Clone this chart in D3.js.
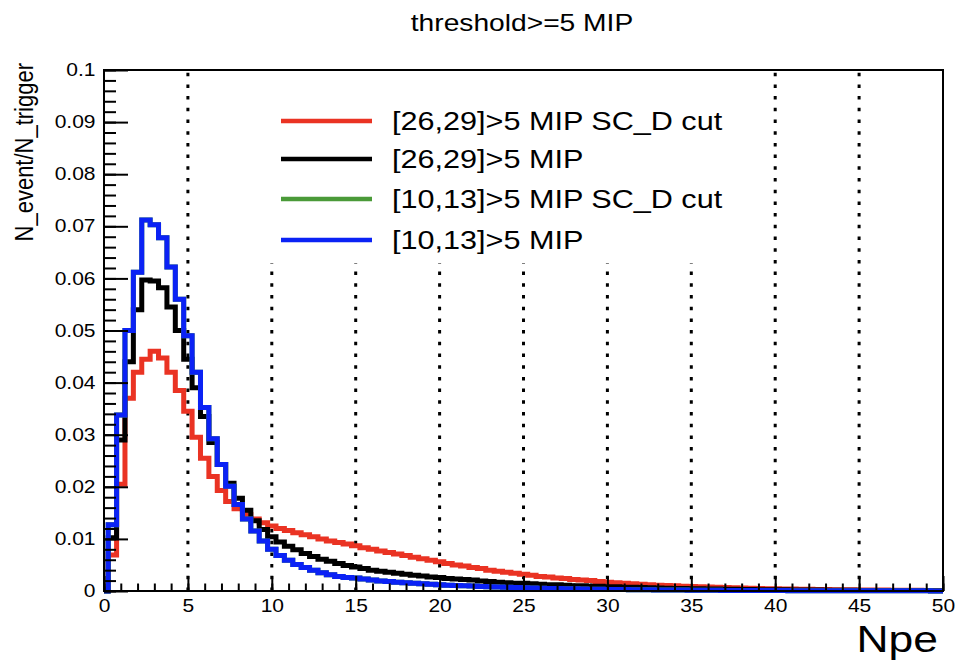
<!DOCTYPE html>
<html>
<head>
<meta charset="utf-8">
<script src="https://cdn.jsdelivr.net/npm/d3@7"></script>
<style>
  body { margin: 0; background: #fff; }
  svg text { font-family: "Liberation Sans", Arial, Helvetica, sans-serif; fill: #000; }
</style>
</head>
<body>
<div id="my_dataviz"></div>
<script>

// histogram contents: bins of 0.5 Npe centred on 0, 0.5, 1, ... 50
const binWidth = 0.5;

const red = [
  0.0004, 0.0069, 0.0205, 0.0370, 0.0420, 0.0445, 0.0460, 0.0447, 0.0420, 0.0385,
  0.0345, 0.0295, 0.0255, 0.0220, 0.0193, 0.0172, 0.0158, 0.0147, 0.0138, 0.0131,
  0.0125, 0.0120, 0.0116, 0.0112, 0.0108, 0.0104, 0.0100, 0.0096, 0.0093, 0.0090,
  0.0087, 0.0083, 0.0080, 0.0077, 0.0074, 0.0071, 0.0068, 0.0065, 0.0062, 0.0059,
  0.0056, 0.0053, 0.0050, 0.0048, 0.0045, 0.0043, 0.0040, 0.0038, 0.0036, 0.0034,
  0.0032, 0.0030, 0.0028, 0.0027, 0.0025, 0.0024, 0.0022, 0.0021, 0.0020, 0.0018,
  0.0017, 0.0016, 0.0015, 0.0014, 0.0013, 0.0012, 0.0011, 0.00105, 0.0010, 0.0009,
  0.00085, 0.0008, 0.00075, 0.0007, 0.00065, 0.0006, 0.00056, 0.00052, 0.00048, 0.00045,
  0.00042, 0.0004, 0.00037, 0.00035, 0.00032, 0.0003, 0.00028, 0.00026, 0.00024, 0.00022,
  0.0002, 0.00019, 0.00018, 0.00017, 0.00016, 0.00015, 0.00014, 0.00013, 0.00012, 0.00011,
  0.0001
];

const black = [
  0, 0.0102, 0.0290, 0.0440, 0.0540, 0.0597, 0.0595, 0.0582, 0.0545, 0.0500,
  0.0445, 0.0390, 0.0335, 0.0285, 0.0243, 0.0207, 0.0178, 0.0155, 0.0135, 0.0118,
  0.0104, 0.0094, 0.0086, 0.0079, 0.0072, 0.0066, 0.0061, 0.0057, 0.0053, 0.0049,
  0.0046, 0.0043, 0.0040, 0.0038, 0.0036, 0.0034, 0.0032, 0.0030, 0.0029, 0.0027,
  0.0026, 0.0024, 0.0023, 0.0022, 0.0021, 0.0019, 0.0018, 0.0017, 0.0016, 0.0015,
  0.0015, 0.0014, 0.0013, 0.0012, 0.0012, 0.0011, 0.0010, 0.0010, 0.0009, 0.0009,
  0.0008, 0.0008, 0.0007, 0.0007, 0.00065, 0.0006, 0.00057, 0.00054, 0.0005, 0.00047,
  0.00044, 0.00041, 0.00038, 0.00036, 0.00034, 0.00032, 0.0003, 0.00028, 0.00026, 0.00025,
  0.00023, 0.00022, 0.0002, 0.00019, 0.00018, 0.00017, 0.00016, 0.00015, 0.00014, 0.00013,
  0.00012, 0.00011, 0.00011, 0.0001, 0.0001, 0.00009, 0.00009, 0.00008, 0.00008, 0.00007,
  0.00007
];

const blue = [
  0, 0.0127, 0.0338, 0.0500, 0.0612, 0.0712, 0.0703, 0.0678, 0.0622, 0.0560,
  0.0490, 0.0420, 0.0352, 0.0292, 0.0243, 0.0201, 0.0166, 0.0138, 0.0115, 0.0096,
  0.0080, 0.0068, 0.0059, 0.0051, 0.0045, 0.0040, 0.0035, 0.0031, 0.0028, 0.0026,
  0.0025, 0.0023, 0.0021, 0.0019, 0.0018, 0.0017, 0.0016, 0.0015, 0.0014, 0.0013,
  0.0012, 0.0011, 0.00105, 0.0010, 0.00094, 0.00088, 0.00082, 0.00077, 0.00072, 0.00067,
  0.00062, 0.00058, 0.00054, 0.0005, 0.00047, 0.00044, 0.00041, 0.00038, 0.00035, 0.00033,
  0.00031, 0.00029, 0.00027, 0.00025, 0.00023, 0.00022, 0.0002, 0.00019, 0.00018, 0.00017,
  0.00016, 0.00015, 0.00014, 0.00013, 0.00012, 0.00011, 0.0001, 0.0001, 0.00009, 0.00009,
  0.00008, 0.00008, 0.00007, 0.00007, 0.00006, 0.00006, 0.00006, 0.00005, 0.00005, 0.00005,
  0.00004, 0.00004, 0.00004, 0.00004, 0.00003, 0.00003, 0.00003, 0.00003, 0.00003, 0.00002,
  0.00002
];

// the SC_D-cut [10,13] histogram lies exactly under the blue one
const green = blue.slice();

const legendLabels = [
  "[26,29]>5 MIP SC_D cut",
  "[26,29]>5 MIP",
  "[10,13]>5 MIP SC_D cut",
  "[10,13]>5 MIP"
];
const colors = ["#ea3323", "#000000", "#4a9a38", "#0b22f5"];

const xTicks = [0, 5, 10, 15, 20, 25, 30, 35, 40, 45, 50];
const xTickLabels = ["0", "5", "10", "15", "20", "25", "30", "35", "40", "45", "50"];
const yTicks = [0, 0.01, 0.02, 0.03, 0.04, 0.05, 0.06, 0.07, 0.08, 0.09, 0.1];
const yTickLabels = ["0", "0.01", "0.02", "0.03", "0.04", "0.05", "0.06", "0.07", "0.08", "0.09", "0.1"];
const gridX = [5, 10, 15, 20, 25, 30, 35, 40, 45];

const titleText = "threshold>=5 MIP";
const xTitle = "Npe";
const yTitle = "N_event/N_trigger";

// set the dimensions and margins of the graph
const W = 956, H = 666;
const margin = { top: 70, right: 13, bottom: 75, left: 104 },
    width = W - margin.left - margin.right,
    height = H - margin.top - margin.bottom;

// the original picture has its text stretched sideways
const sx = 1.2;

const svg = d3.select("#my_dataviz")
    .append("svg")
    .attr("width", W)
    .attr("height", H);

const g = svg.append("g")
    .attr("transform", `translate(${margin.left}, ${margin.top})`);

const x = d3.scaleLinear().domain([0, 50]).range([0, width]);
const y = d3.scaleLinear().domain([0, 0.1]).range([height, 0]);

// dotted vertical grid
g.append("g")
    .selectAll("line")
    .data(gridX)
    .join("line")
    .attr("x1", d => x(d)).attr("x2", d => x(d))
    .attr("y1", height).attr("y2", 0)
    .attr("stroke", "#000")
    .attr("stroke-width", 3)
    .attr("stroke-dasharray", "3.5,8.2");

// clip to the frame
g.append("defs").append("clipPath")
    .attr("id", "clip")
    .append("rect")
    .attr("x", 0).attr("y", 0)
    .attr("width", width).attr("height", height + 3);

//////////
// HISTOGRAMS //
//////////
const series = [red, black, green, blue].map((vals, i) => ({
    label: legendLabels[i], color: colors[i], values: vals
}));

// step outline, bin i spans (i-0.5)*w .. (i+0.5)*w
function steps(vals) {
    const pts = vals.map((v, i) => [(i - 0.5) * binWidth, v]);
    pts.push([(vals.length - 0.5) * binWidth, vals[vals.length - 1]]);
    return pts;
}

const line = d3.line()
    .x(d => x(d[0]))
    .y(d => y(d[1]))
    .curve(d3.curveStepAfter);

g.append("g")
    .attr("clip-path", "url(#clip)")
    .selectAll("path")
    .data(series)
    .join("path")
    .attr("d", d => line(steps(d.values)))
    .attr("fill", "none")
    .attr("stroke", d => d.color)
    .attr("stroke-width", 5)
    .attr("stroke-linejoin", "miter");

//////////
// AXIS //
//////////
const xAxis = g.append("g")
    .attr("transform", `translate(0, ${height})`)
    .call(d3.axisBottom(x).tickValues(xTicks)
        .tickFormat((d, i) => xTickLabels[i])
        .tickSize(-15).tickPadding(9));
g.append("g")
    .attr("transform", `translate(0, ${height})`)
    .call(d3.axisBottom(x).ticks(50).tickFormat("").tickSize(-7.5));

const yAxis = g.append("g")
    .call(d3.axisLeft(y).tickValues(yTicks)
        .tickFormat((d, i) => yTickLabels[i])
        .tickSize(-24).tickPadding(8.5));
g.append("g")
    .call(d3.axisLeft(y).ticks(50).tickFormat("").tickSize(-12));

g.selectAll(".domain").remove();
g.selectAll(".tick line").attr("stroke", "#000").attr("stroke-width", 2);

xAxis.selectAll("text")
    .style("font-size", "17.5px")
    .attr("transform", `scale(${sx},1)`);
yAxis.selectAll("text")
    .style("font-size", "17.5px")
    .attr("x", -8.5 / sx)
    .attr("transform", `scale(${sx},1)`);

// frame
g.append("rect")
    .attr("width", width).attr("height", height)
    .attr("fill", "none")
    .attr("stroke", "#000")
    .attr("stroke-width", 2);

//////////
// LEGEND //
//////////
const legend = svg.append("g");
legend.append("rect")
    .attr("x", 200).attr("y", 72)
    .attr("width", 540).attr("height", 191)
    .attr("fill", "#fff");

const rows = [121, 159, 199, 240];
const entry = legend.selectAll(".entry")
    .data(series)
    .join("g")
    .attr("class", "entry")
    .attr("transform", (d, i) => `translate(0, ${rows[i]})`);
entry.append("line")
    .attr("x1", 281).attr("x2", 372)
    .attr("y1", 0).attr("y2", 0)
    .attr("stroke", d => d.color)
    .attr("stroke-width", 4.5);
entry.append("text")
    .attr("transform", `translate(392, 9) scale(${sx},1)`)
    .style("font-size", "25.5px")
    .text(d => d.label);

//////////
// TITLES //
//////////
svg.append("text")
    .attr("transform", `translate(522, 31) scale(${sx},1)`)
    .attr("text-anchor", "middle")
    .style("font-size", "23.5px")
    .text(titleText);

svg.append("text")
    .attr("transform", `translate(938, 652) scale(${sx},1)`)
    .attr("text-anchor", "end")
    .style("font-size", "37px")
    .text(xTitle);

svg.append("text")
    .attr("transform", `translate(33, 63) scale(${sx},1) rotate(-90)`)
    .attr("text-anchor", "end")
    .style("font-size", "22px")
    .text(yTitle);

</script>
</body>
</html>
